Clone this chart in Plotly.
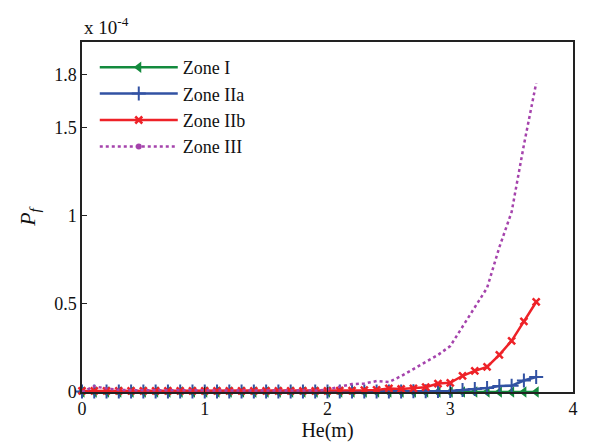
import plotly.graph_objects as go

# Data (Pf values in units of 1e-4)
he = [round(0.1 * i, 1) for i in range(38)]

zone_i = [0.0] * 38

zone_iia = [0.003, 0.003, 0.003, 0.003, 0.003, 0.003, 0.003, 0.003, 0.003, 0.003,
            0.003, 0.003, 0.003, 0.003, 0.003, 0.003, 0.003, 0.003, 0.003, 0.003,
            0.003, 0.003, 0.003, 0.003, 0.003, 0.003, 0.003, 0.004, 0.004, 0.005,
            0.006, 0.011, 0.017, 0.022, 0.034, 0.036, 0.065, 0.085]

zone_iib = [0.006, 0.006, 0.006, 0.006, 0.006, 0.006, 0.006, 0.006, 0.006, 0.006,
            0.006, 0.006, 0.006, 0.006, 0.006, 0.006, 0.006, 0.006, 0.006, 0.006,
            0.007, 0.008, 0.008, 0.01, 0.012, 0.02, 0.017, 0.021, 0.027, 0.048,
            0.052, 0.092, 0.12, 0.142, 0.21, 0.29, 0.40, 0.51]

zone_iii = [0.0, 0.032, 0.02, 0.012, 0.01, 0.01, 0.008, 0.008, 0.008, 0.007,
            0.007, 0.006, 0.006, 0.006, 0.006, 0.006, 0.006, 0.006, 0.006, 0.008,
            0.014, 0.03, 0.045, 0.048, 0.062, 0.056, 0.09, 0.13, 0.17, 0.21,
            0.26, 0.37, 0.48, 0.59, 0.82, 1.02, 1.40, 1.75]

y_ticks = [0, 0.5, 1, 1.5, 1.8]
y_tick_labels = ["0", "0.5", "1", "1.5", "1.8"]
x_ticks = [0, 1, 2, 3, 4]

GREEN = "#138a3d"
BLUE = "#3252a3"
RED = "#ee2228"
PURPLE = "#a543ac"
FONT = "Liberation Serif"

fig = go.Figure()

fig.add_trace(go.Scatter(x=he, y=zone_i, name="Zone I", mode="lines+markers",
                         line=dict(color=GREEN, width=2.5), cliponaxis=False,
                         marker=dict(symbol="triangle-left", size=10, color=GREEN)))
fig.add_trace(go.Scatter(x=he, y=zone_iia, name="Zone IIa", mode="lines+markers",
                         line=dict(color=BLUE, width=2.5), cliponaxis=False,
                         marker=dict(symbol="cross-thin", size=10, color=BLUE,
                                     line=dict(color=BLUE, width=2))))
fig.add_trace(go.Scatter(x=he, y=zone_iib, name="Zone IIb", mode="lines+markers",
                         line=dict(color=RED, width=2.5), cliponaxis=False,
                         marker=dict(symbol="x-thin", size=7, color=RED,
                                     line=dict(color=RED, width=2.5))))
fig.add_trace(go.Scatter(x=he, y=zone_iii, name="Zone III", mode="lines",
                         line=dict(color=PURPLE, width=2.5, dash="dot"),
                         cliponaxis=False, showlegend=False))
fig.add_trace(go.Scatter(x=[None], y=[None], name="Zone III", mode="lines+markers",
                         line=dict(color=PURPLE, width=2.5, dash="dot"),
                         marker=dict(symbol="circle", size=6, color=PURPLE)))

axis_common = dict(showline=True, linecolor="#222", linewidth=1.5, mirror=True,
                   ticks="inside", ticklen=5, tickcolor="#222", tickwidth=1.2,
                   showgrid=False, zeroline=False,
                   tickfont=dict(family=FONT, size=18, color="#111"))

fig.update_xaxes(range=[0, 4], tickvals=x_ticks,
                 title=dict(text="He(m)", font=dict(family=FONT, size=20, color="#111"),
                            standoff=3),
                 **axis_common)
fig.update_yaxes(range=[0, 1.983], tickvals=y_ticks, ticktext=y_tick_labels,
                 title=dict(text="<i>P</i><sub><i>f</i></sub>",
                            font=dict(family=FONT, size=22, color="#111"), standoff=12),
                 **axis_common)

fig.add_annotation(xref="paper", yref="paper", x=0, y=1, xanchor="left", yanchor="bottom",
                   text="x 10<sup>-4</sup>", showarrow=False, yshift=2,
                   font=dict(family=FONT, size=19, color="#111"))

# the page body has an 8px margin, so the figure is sized/offset to compensate
fig.update_layout(
    width=581, height=439,
    margin=dict(l=74, r=11, t=34, b=54),
    paper_bgcolor="white", plot_bgcolor="white",
    showlegend=True,
    legend=dict(x=0.026, y=0.98, xanchor="left", yanchor="top",
                bgcolor="rgba(0,0,0,0)", borderwidth=0,
                font=dict(family=FONT, size=18, color="#111"),
                itemwidth=78),
)

fig.write_html("out.html")
